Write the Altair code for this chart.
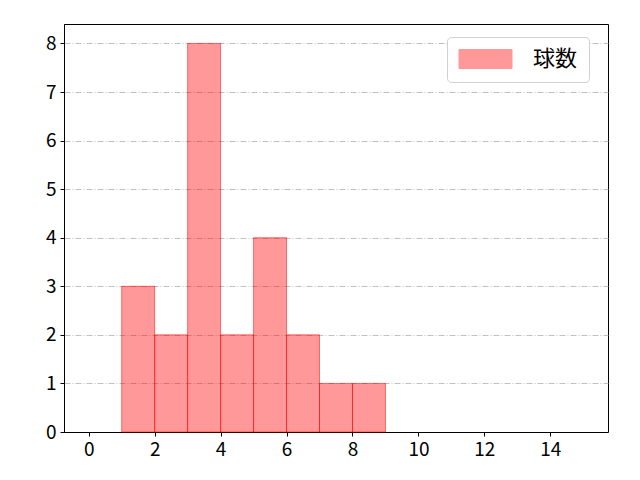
import altair as alt
import pandas as pd

bin_start = [1, 2, 3, 4, 5, 6, 7, 8]
bin_end = [2, 3, 4, 5, 6, 7, 8, 9]
counts = [3, 2, 8, 2, 4, 2, 1, 1]
series = ["球数"] * len(counts)

df = pd.DataFrame({"start": bin_start, "end": bin_end, "count": counts,
                   "base": [0] * len(counts), "series": series})

FONT = "Noto Sans CJK JP"

chart = alt.Chart(df).mark_bar(
    fillOpacity=0.4, stroke="#ff0000", strokeOpacity=0.5, strokeWidth=1, orient="vertical"
).encode(
    x=alt.X("start:Q", scale=alt.Scale(domain=[-0.75, 15.75], nice=False, zero=False, padding=0),
            axis=alt.Axis(values=[0, 2, 4, 6, 8, 10, 12, 14], title=None, grid=False)),
    x2="end:Q",
    y=alt.Y("count:Q", scale=alt.Scale(domain=[0, 8.4], nice=False, padding=0),
            axis=alt.Axis(values=[0, 1, 2, 3, 4, 5, 6, 7, 8], title=None, grid=True,
                          gridColor="#b0b0b0", gridDash=[6, 2, 1, 2], gridWidth=0.8)),
    y2="base:Q",
    color=alt.Color("series:N", scale=alt.Scale(range=["#ff0000"]),
                    legend=alt.Legend(title=None, orient="none", legendX=383, legendY=13,
                                      symbolType="M-1,-0.95L4.3,-0.95L4.3,0.95L-1,0.95Z",
                                      symbolSize=400, symbolOpacity=0.4,
                                      symbolStrokeColor="#ff0000", symbolStrokeWidth=1,
                                      labelFont=FONT, labelFontSize=22, labelColor="black",
                                      labelOffset=53, padding=11,
                                      strokeColor="#d0d0d0", fillColor="white",
                                      cornerRadius=4)),
).properties(
    width=544, height=408,
    autosize=alt.AutoSizeParams(type="none"),
    padding={"left": 56, "top": 16, "right": 24, "bottom": 40},
).configure_axis(
    labelFont=FONT, labelFontSize=19, labelColor="black",
    domainColor="black", tickColor="black", tickSize=4, labelPadding=4,
    domainWidth=1,
).configure_view(
    stroke="black", strokeWidth=1,
)

chart.save("out.html", embed_options={"renderer": "svg", "actions": False})
